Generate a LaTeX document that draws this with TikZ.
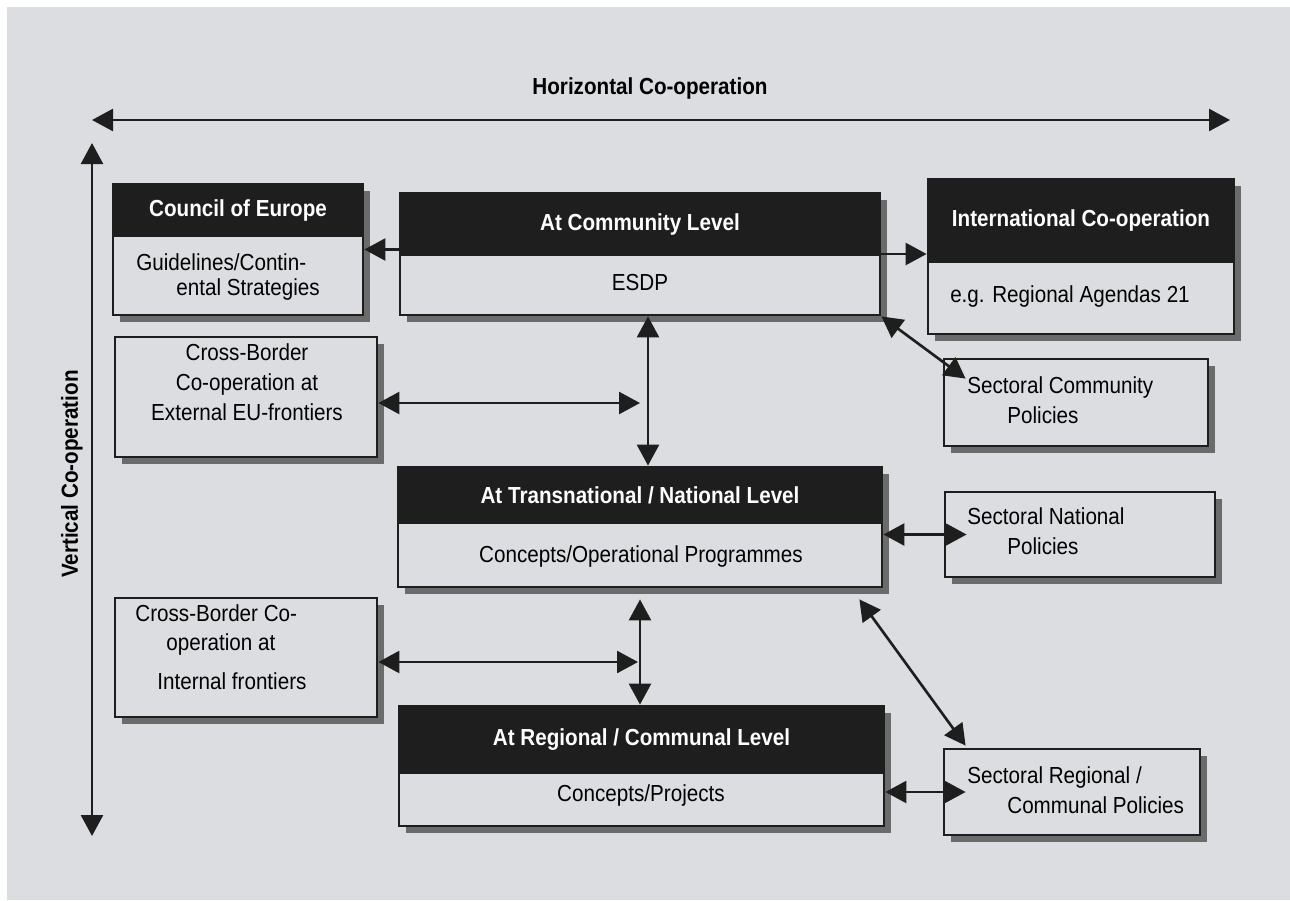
\documentclass[tikz,border=0pt]{standalone}
\usepackage{fontspec}
\setmainfont{Liberation Sans}[FakeStretch=0.89]
\usetikzlibrary{arrows.meta,shadows}

\definecolor{bggray}{RGB}{220,221,224}
\definecolor{inkblack}{RGB}{30,30,30}
\newcommand{\diagfont}{\fontsize{13.2}{16}\selectfont}

\tikzset{
  panel/.style={draw=inkblack, line width=1.6pt, fill=bggray,
    drop shadow={shadow xshift=0.13cm, shadow yshift=-0.13cm, fill=black!58, opacity=1}},
  head/.style={draw=inkblack, line width=1.6pt, fill=inkblack, text=white,
    font=\diagfont\bfseries, anchor=north},
  bodytext/.style={font=\diagfont, inner sep=0pt},
  linetext/.style={font=\diagfont, inner sep=0pt, anchor=west, align=left},
  tip/.style={Triangle[length=0.42cm, width=0.44cm]},
  link/.style={line width=1.5pt, draw=inkblack, {Triangle[length=0.42cm, width=0.44cm]}-{Triangle[length=0.42cm, width=0.44cm]}},
  onelink/.style={line width=1.5pt, draw=inkblack, -{Triangle[length=0.42cm, width=0.44cm]}}
}

\begin{document}
\begin{tikzpicture}
    % background
    \useasboundingbox (0, 0) rectangle (25.8, -18);
    \fill[white] (0, 0) rectangle (25.8, -18);
    \fill[bggray] (0.14, -0.14) rectangle (25.8, -18);

    % axes
    \coordinate (hleft) at (1.84, -2.4);
    \coordinate (hright) at (24.6, -2.4);
    \coordinate (vtop) at (1.84, -2.86);
    \coordinate (vbottom) at (1.84, -16.72);
    \draw[link] (hleft) -- (hright);
    \draw[link] (vtop) -- (vbottom);
    \node[font=\diagfont\bfseries] (hlabel) at (13.0, -1.76) {Horizontal Co-operation};
    \node[font=\diagfont\bfseries, rotate=90] (vlabel) at (1.44, -9.48) {Vertical Co-operation};

    % boxes
    \node[panel, minimum width=5.0cm, minimum height=2.62cm] (coe) at (4.76, -4.99) {};
    \node[panel, minimum width=9.6cm, minimum height=2.44cm] (com) at (12.8, -5.08) {};
    \node[panel, minimum width=6.12cm, minimum height=3.1cm] (int) at (21.62, -5.13) {};
    \node[panel, minimum width=5.24cm, minimum height=2.4cm] (cbe) at (4.92, -7.94) {};
    \node[panel, minimum width=5.28cm, minimum height=1.74cm] (scp) at (21.52, -8.05) {};
    \node[panel, minimum width=9.68cm, minimum height=2.4cm] (tra) at (12.8, -10.54) {};
    \node[panel, minimum width=5.4cm, minimum height=1.7cm] (snp) at (21.6, -10.69) {};
    \node[panel, minimum width=5.24cm, minimum height=2.38cm] (cbi) at (4.92, -13.15) {};
    \node[panel, minimum width=9.7cm, minimum height=2.4cm] (reg) at (12.83, -15.32) {};
    \node[panel, minimum width=5.12cm, minimum height=1.72cm] (srp) at (21.44, -15.84) {};

    % black title bars
    \node[head, minimum width=5.0cm, minimum height=1.04cm] (coeh) at (coe.north) {Council of Europe};
    \node[head, minimum width=9.6cm, minimum height=1.24cm] (comh) at (com.north) {At Community Level};
    \node[head, minimum width=6.12cm, minimum height=1.66cm] (inth) at (int.north) {International Co-operation};
    \node[head, minimum width=9.68cm, minimum height=1.12cm] (trah) at (tra.north) {At Transnational / National Level};
    \node[head, minimum width=9.7cm, minimum height=1.34cm] (regh) at (reg.north) {At Regional / Communal Level};

    % box texts
    \node[linetext] (coeb) at (2.72, -5.54) {Guidelines/Contin-\\[-2pt]\hspace*{0.8cm}ental Strategies};
    \node[bodytext] (comb) at (12.8, -5.66) {ESDP};
    \node[bodytext] (intb) at (21.4, -5.92) {e.g. Regional Agendas 21};
    \node[bodytext, align=center] (cbeb) at (4.94, -7.64) {Cross-Border\\[1pt]Co-operation at\\[1pt]External EU-frontiers};
    \node[linetext] (scpb) at (19.34, -8.0) {Sectoral Community\\[1pt]\hspace*{0.8cm}Policies};
    \node[bodytext] (trab) at (12.82, -11.12) {Concepts/Operational Programmes};
    \node[linetext] (snpb) at (19.34, -10.62) {Sectoral National\\[1pt]\hspace*{0.8cm}Policies};
    \node[linetext] (cbib) at (2.7, -12.94) {Cross-Border Co-\\[1pt]\hspace*{0.62cm}operation at\\[6pt]\hspace*{0.44cm}Internal frontiers};
    \node[bodytext] (regb) at (12.82, -15.9) {Concepts/Projects};
    \node[linetext] (srpb) at (19.34, -15.8) {Sectoral Regional /\\[1pt]\hspace*{0.8cm}Communal Policies};

    % connectors
    \coordinate (jointop) at (12.8, -8.06);
    \coordinate (joinbot) at (12.76, -13.24);
    \draw[onelink] (com.west |- coe.east) -- (coe.east);
    \draw[onelink] (com.east) -- (com.east -| int.west);
    \draw[link] (com.south east) -- ([xshift=0.46cm, yshift=-0.42cm]scp.north west);
    \draw[link] ([xshift=0.16cm]com.south) -- ([xshift=0.16cm]com.south |- tra.north);
    \draw[link] (cbe.east |- jointop) -- (jointop);
    \draw[link] (tra.east |- snp.west) -- ([xshift=0.46cm]snp.west);
    \draw[link] ([yshift=-0.22cm]tra.south) -- (tra.south |- reg.north);
    \draw[link] (cbi.east |- joinbot) -- (joinbot);
    \draw[link] ([xshift=-0.48cm, yshift=-0.22cm]tra.south east) -- ([xshift=0.46cm, yshift=0.04cm]srp.north west);
    \draw[link] (reg.east |- srp.west) -- ([xshift=0.46cm]srp.west);

\end{tikzpicture}
\end{document}
